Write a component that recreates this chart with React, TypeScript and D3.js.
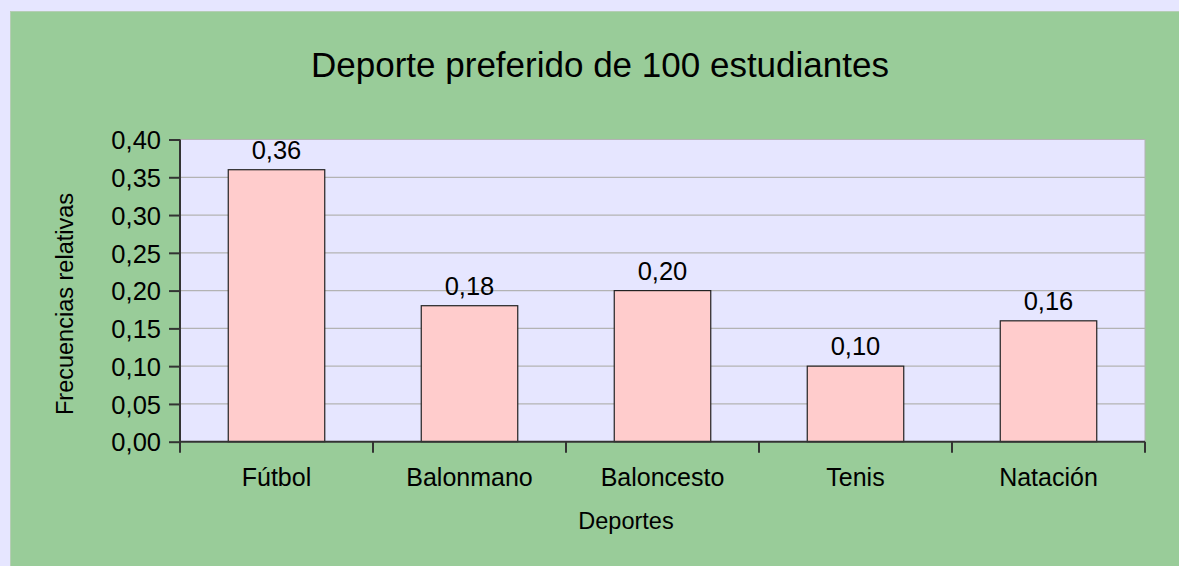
import * as d3 from "d3";
import { useEffect, useRef } from "react";

const categories = ["Fútbol", "Balonmano", "Baloncesto", "Tenis", "Natación"];
const values = [0.36, 0.18, 0.2, 0.1, 0.16];
const yTicks = [0, 0.05, 0.1, 0.15, 0.2, 0.25, 0.3, 0.35, 0.4];

const title = "Deporte preferido de 100 estudiantes";
const xTitle = "Deportes";
const yTitle = "Frecuencias relativas";

const fmt = (v: number) => v.toFixed(2).replace(".", ",");

export default function App() {
  const svgRef = useRef<SVGSVGElement | null>(null);

  useEffect(() => {
    if (!svgRef.current) return;
    const svg = d3.select(svgRef.current);
    svg.selectAll("*").remove();

    const W = 1179;
    const H = 566;
    const plot = { left: 180, right: 1145, top: 139.5, bottom: 441.7 };
    const font = "'Liberation Sans', Arial, sans-serif";

    svg.attr("width", W).attr("height", H).style("font-family", font);

    svg.append("rect").attr("width", W).attr("height", H).attr("fill", "#e6e6ff");
    svg
      .append("rect")
      .attr("x", 10.5)
      .attr("y", 11.5)
      .attr("width", W)
      .attr("height", H)
      .attr("fill", "#99cc99")
      .attr("stroke", "#b5cdb5");

    const x = d3
      .scaleBand()
      .domain(categories)
      .range([plot.left, plot.right])
      .paddingInner(0.5)
      .paddingOuter(0.25);
    const xOuter = d3.scaleBand().domain(categories).range([plot.left, plot.right]);
    const y = d3.scaleLinear().domain([0, 0.4]).range([plot.bottom, plot.top]);

    svg
      .append("rect")
      .attr("x", plot.left)
      .attr("y", plot.top)
      .attr("width", plot.right - plot.left)
      .attr("height", plot.bottom - plot.top)
      .attr("fill", "#e6e6ff")
      .attr("stroke", "#b3b3b3");

    // gridlines
    svg
      .append("g")
      .selectAll("line")
      .data(yTicks.slice(1))
      .enter()
      .append("line")
      .attr("x1", plot.left)
      .attr("x2", plot.right)
      .attr("y1", (d) => y(d))
      .attr("y2", (d) => y(d))
      .attr("stroke", "#b3b3b3")
      .attr("stroke-width", 1.2);

    // bars
    svg
      .append("g")
      .selectAll("rect")
      .data(values)
      .enter()
      .append("rect")
      .attr("x", (_, i) => x(categories[i])!)
      .attr("y", (d) => y(d))
      .attr("width", x.bandwidth())
      .attr("height", (d) => plot.bottom - y(d))
      .attr("fill", "#ffcccc")
      .attr("stroke", "#222")
      .attr("stroke-width", 1.2);

    // data labels
    svg
      .append("g")
      .selectAll("text")
      .data(values)
      .enter()
      .append("text")
      .attr("x", (_, i) => x(categories[i])! + x.bandwidth() / 2)
      .attr("y", (d) => y(d) - 11)
      .attr("text-anchor", "middle")
      .attr("font-size", 25.5)
      .attr("fill", "#000")
      .text((d) => fmt(d));

    // y axis
    const yAxis = svg
      .append("g")
      .attr("transform", `translate(${plot.left},0)`)
      .call(
        d3
          .axisLeft(y)
          .tickValues(yTicks)
          .tickSize(11)
          .tickPadding(8)
          .tickFormat((d) => fmt(d as number)),
      );
    yAxis.select(".domain").attr("stroke", "#333").attr("stroke-width", 2).attr("d", `M0,${plot.top}V${plot.bottom}`);
    yAxis.selectAll(".tick line").attr("stroke", "#333").attr("stroke-width", 2);
    yAxis
      .selectAll(".tick text")
      .attr("font-size", 25.5)
      .attr("font-family", font)
      .attr("fill", "#000")
      .attr("dy", "0.36em");

    // x axis
    const xg = svg.append("g");
    xg.append("line")
      .attr("x1", plot.left)
      .attr("x2", plot.right)
      .attr("y1", plot.bottom)
      .attr("y2", plot.bottom)
      .attr("stroke", "#333")
      .attr("stroke-width", 2);
    const bounds = categories.map((c) => xOuter(c)!).concat([plot.right]);
    xg.selectAll(".xt")
      .data(bounds)
      .enter()
      .append("line")
      .attr("x1", (d) => d)
      .attr("x2", (d) => d)
      .attr("y1", plot.bottom)
      .attr("y2", plot.bottom + 11)
      .attr("stroke", "#333")
      .attr("stroke-width", 2);
    xg.selectAll("text")
      .data(categories)
      .enter()
      .append("text")
      .attr("x", (d) => xOuter(d)! + xOuter.bandwidth() / 2)
      .attr("y", 486)
      .attr("text-anchor", "middle")
      .attr("font-size", 25)
      .text((d) => d);

    // titles
    svg
      .append("text")
      .attr("x", 600)
      .attr("y", 77)
      .attr("text-anchor", "middle")
      .attr("font-size", 35)
      .text(title);
    svg
      .append("text")
      .attr("x", 626)
      .attr("y", 529)
      .attr("text-anchor", "middle")
      .attr("font-size", 23.5)
      .text(xTitle);
    svg
      .append("text")
      .attr("transform", "translate(73,304) rotate(-90)")
      .attr("text-anchor", "middle")
      .attr("font-size", 23.5)
      .text(yTitle);
  }, []);

  return (
    <div style={{ position: "fixed", left: 0, top: 0 }}>
      <svg ref={svgRef} style={{ display: "block" }} />
    </div>
  );
}
